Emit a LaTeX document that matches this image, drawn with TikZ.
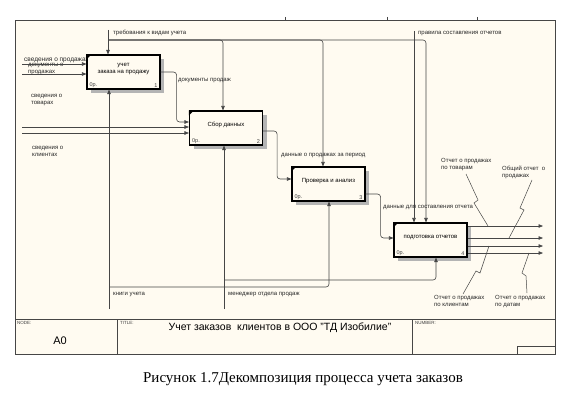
\documentclass[tikz,border=0pt]{standalone}
\usepackage{fontspec}
\setmainfont{Liberation Sans}
\newfontfamily\captionfont{Liberation Serif}
\usetikzlibrary{positioning,arrows.meta,shadows}
\definecolor{paper}{RGB}{255,251,241}
\definecolor{wire}{RGB}{70,70,70}
\definecolor{hatch}{RGB}{180,180,180}
\begin{document}
\begin{tikzpicture}[x=1pt,y=-1pt]
\tikzstyle{func}=[rectangle,draw=black,line width=1.1pt,fill=paper,minimum width=73pt,minimum height=34pt,inner sep=1pt,align=center,font=\fontsize{6}{7.5}\selectfont,text depth=7pt,drop shadow={shadow xshift=4pt,shadow yshift=-4pt,fill=hatch,opacity=1}]
\tikzstyle{arr}=[draw=wire,line width=0.6pt,rounded corners=3pt,-{Triangle[length=4.5pt,width=3.5pt]}]
\tikzstyle{lbl}=[inner sep=0pt,align=left,font=\fontsize{6}{7}\selectfont,text=black!85]
\tikzstyle{leader}=[draw=wire,line width=0.5pt]
\tikzstyle{tiny}=[inner sep=0pt,font=\fontsize{4.5}{5}\selectfont,text=black!75]

\useasboundingbox (0,0) rectangle (588,404);

% frame
\fill[paper] (15,20) rectangle (555,354);
\draw[wire,line width=0.6pt] (15,20) -- (555,20) -- (555,354) -- (15,354) -- cycle;
\draw[wire,line width=0.5pt] (285,17) -- (285,20) (387,17) -- (387,20) (477,17) -- (477,20);

% labels that the boxes partly cover
\node[lbl,anchor=west,font=\fontsize{6.5}{7}\selectfont] (lSales) at (24,60.5) {сведения о продажах};
\node[lbl,anchor=north west] (lDocs) at (28,63.5) {документы о\\продажах};
\node[lbl,anchor=north west] (lGoods) at (31,94.5) {сведения о\\товарах};
\node[lbl,anchor=north west] (lClients) at (32,146.5) {сведения о\\клиентах};

% activities
\node[func] (b1) at (123.5,72) {учет\\заказа на продажу};
\node[func] (b2) at (226,128) {Сбор данных};
\node[func] (b3) at (328.5,184) {Проверка и анализ};
\node[func] (b4) at (430.5,240) {подготовка отчетов};

\foreach \b/\n in {b1/1,b2/2,b3/3,b4/4}{
  \fill (\b.north west) -- ++(5,0) -- ++(-5,5) -- cycle;
  \node[tiny,anchor=south west,font=\fontsize{5.5}{6}\selectfont] at ([xshift=3pt,yshift=2pt]\b.south west) {0р.};
  \node[tiny,anchor=south east,font=\fontsize{5.5}{6}\selectfont] at ([xshift=-3pt,yshift=2pt]\b.south east) {\n};
}

% inputs
\coordinate (inSales) at (22,64);
\coordinate (inDocs) at (22,74);
\coordinate (inGoods) at (22,127);
\coordinate (inClients) at (22,133);
\draw[arr] (inSales) -- (b1.west |- inSales);
\draw[arr] (inDocs) -- (b1.west |- inDocs);
\draw[arr] (inGoods) -- (b2.west |- inGoods);
\draw[arr] (inClients) -- (b2.west |- inClients);

% controls
\coordinate (ctlReq) at (108,30);
\coordinate (splitReq) at (108,40);
\coordinate (ctlRules) at (414,31);
\draw[arr] (ctlReq) -- (ctlReq |- b1.north);
\draw[arr] (splitReq) -| ([xshift=-3pt]b2.north);
\draw[arr] (splitReq) -| ([xshift=-5.5pt]b3.north);
\draw[arr] (splitReq) -| ([xshift=-4.5pt]b4.north);
\draw[arr] (ctlRules) -- (ctlRules |- b4.north);
\node[lbl,anchor=west] (lReq) at (113,33) {требования к видам учета};
\node[lbl,anchor=west] (lRules) at (418,34) {правила составления отчетов};

% flows between the activities
\draw[arr] (b1.east) -- ++(16,0) |- ([yshift=6pt]b2.west);
\node[lbl,anchor=west] (lDocsOut) at (178,81) {документы продаж};
\draw[arr] ([yshift=-3pt]b2.east) -- ++(14,0) |- ([yshift=5pt]b3.west);
\node[lbl,anchor=west] (lPeriod) at (281,156) {данные о продажах за период};
\draw[arr] ([yshift=-10pt]b3.east) -- ++(15,0) |- ([yshift=2pt]b4.west);
\node[lbl,anchor=west] (lReport) at (383,207) {данные для составления отчета};

% mechanisms
\coordinate (mechBooks) at (109,309);
\coordinate (splitBooks) at (109,287);
\coordinate (mechMgr) at (224,309);
\coordinate (splitMgr) at (224,280);
\draw[arr] (mechBooks) -- (mechBooks |- b1.south);
\draw[arr] (splitBooks) -| ([xshift=0.5pt]b3.south);
\draw[arr] (mechMgr) -- (mechMgr |- b2.south);
\draw[arr] (splitMgr) -| ([xshift=5.5pt]b4.south);
\node[lbl,anchor=west] (lBooks) at (113,295) {книги учета};
\node[lbl,anchor=west] (lMgr) at (228,295) {менеджер отдела продаж};

% outputs
\coordinate (outGoods) at (543,226);
\coordinate (outTotal) at (543,238);
\coordinate (outClients) at (543,246);
\coordinate (outDates) at (543,253);
\draw[arr] (b4.east |- outGoods) -- (outGoods);
\draw[arr] (b4.east |- outTotal) -- (outTotal);
\draw[arr] (b4.east |- outClients) -- (outClients);
\draw[arr] (b4.east |- outDates) -- (outDates);

\node[lbl,anchor=north west] (rGoods) at (441,158) {Отчет о продажах\\по товарам};
\node[lbl,anchor=north west] (rTotal) at (502,166) {Общий отчет~ о\\продажах};
\node[lbl,anchor=north west] (rClients) at (434,295) {Отчет о продажах\\по клиентам};
\node[lbl,anchor=north west] (rDates) at (495,295) {Отчет о продажах\\по датам};
\draw[leader] (466,174) -- (478,200) -- (474,203) -- (488,226);
\draw[leader] (532,180) -- (520,208) -- (524,210) -- (509,238);
\draw[leader] (463,294) -- (476,271) -- (480,273) -- (489,246);
\draw[leader] (527,293) -- (526,276) -- (522,273) -- (529,253);

% title block
\draw[wire,line width=0.6pt] (15,319) -- (555,319);
\draw[wire,line width=0.6pt] (117,319) -- (117,354) (412,319) -- (412,354);
\draw[wire,line width=0.6pt] (517,346) rectangle (555,354);
\node[tiny,anchor=north west] (tNode) at (17,321) {NODE:};
\node[tiny,anchor=north west] (tTitle) at (120,321) {TITLE:};
\node[tiny,anchor=north west] (tNumber) at (415,321) {NUMBER:};
\node[inner sep=0pt,font=\fontsize{11}{12}\selectfont] (nodeId) at (60,341) {A0};
\node[inner sep=0pt,font=\fontsize{10.5}{12}\selectfont] (title) at (280,328) {Учет заказов~ клиентов в ООО "ТД Изобилие"};

\node[inner sep=0pt,font=\captionfont\fontsize{15}{17}\selectfont] (caption) at (303,379) {Рисунок 1.7Декомпозиция процесса учета заказов};
\end{tikzpicture}
\end{document}
